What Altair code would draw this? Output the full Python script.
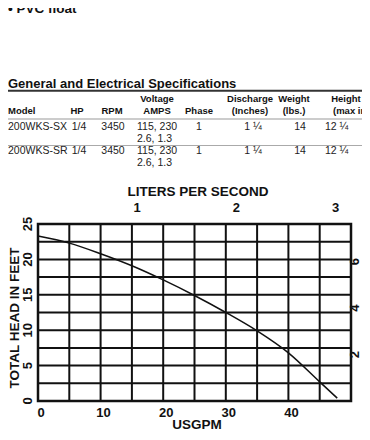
import altair as alt
import pandas as pd

# ---------------- data ----------------
gpm = [0, 5, 10, 15, 20, 25, 30, 35, 40, 45, 47.8]
head_ft = [23.3, 22.3, 20.8, 19.1, 17.1, 14.9, 12.5, 9.9, 6.8, 2.7, 0.4]

x_ticks_gpm = [0, 10, 20, 30, 40]
y_ticks_ft = [0, 5, 10, 15, 20, 25]
top_ticks_lps = [1, 2, 3]
right_ticks_m = [2, 4, 6]
grid_gpm = [0, 5, 10, 15, 20, 25, 30, 35, 40, 45, 50]
grid_ft = [0, 2.5, 5, 7.5, 10, 12.5, 15, 17.5, 20, 22.5, 25]

hdr_top = ["Voltage", "Discharge", "Weight", "Height"]
hdr_bot = ["Model", "HP", "RPM", "AMPS", "Phase", "(Inches)", "(lbs.)", "(max in.)"]
models = ["200WKS-SX", "200WKS-SR"]
hp = ["1/4", "1/4"]
rpm = ["3450", "3450"]
volts = ["115, 230", "115, 230"]
amps = ["2.6, 1.3", "2.6, 1.3"]
phase = ["1", "1"]
discharge = ["1 \u00bc", "1 \u00bc"]
weight = ["14", "14"]
height_in = ["12 \u00bc", "12 \u00bc"]

# ---------------- layout ----------------
W, H = 354, 424
PX = [30, 343]
PY = [393, 216]
GPM_MAX, FT_MAX = 50, 25
LPS_PER_GPM = 1 / 15.850323
M_PER_FT = 0.3048

SANS = "Liberation Sans, Arial, Helvetica, sans-serif"

xs = alt.Scale(domain=[0, GPM_MAX], range=PX)
ys = alt.Scale(domain=[0, FT_MAX], range=PY)
xs_lps = alt.Scale(domain=[0, GPM_MAX * LPS_PER_GPM], range=PX)
ys_m = alt.Scale(domain=[0, FT_MAX * M_PER_FT], range=PY)

one = alt.Data(values=[{"a": 1}])

# gridlines
vg = pd.DataFrame({"g": grid_gpm, "y0": 0, "y1": FT_MAX})
hg = pd.DataFrame({"f": grid_ft, "x0": 0, "x1": GPM_MAX})
vgrid = alt.Chart(vg).mark_rule(color="#111", strokeWidth=2).encode(
    x=alt.X("g:Q", scale=xs, axis=None),
    y=alt.Y("y0:Q", scale=ys, axis=None), y2="y1:Q")
hgrid = alt.Chart(hg).mark_rule(color="#111", strokeWidth=2).encode(
    y=alt.Y("f:Q", scale=ys, axis=None),
    x=alt.X("x0:Q", scale=xs, axis=None), x2="x1:Q")
border = alt.Chart(pd.DataFrame({"x0": [0], "x1": [GPM_MAX], "y0": [0], "y1": [FT_MAX]})).mark_rect(
    fill=None, stroke="#111", strokeWidth=2.5).encode(
    x=alt.X("x0:Q", scale=xs, axis=None), x2="x1:Q",
    y=alt.Y("y0:Q", scale=ys, axis=None), y2="y1:Q")

curve = alt.Chart(pd.DataFrame({"gpm": gpm, "ft": head_ft})).mark_line(
    color="#111", strokeWidth=1.5, interpolate="monotone").encode(
    x=alt.X("gpm:Q", scale=xs, axis=None),
    y=alt.Y("ft:Q", scale=ys, axis=None))

lab_style = dict(font=SANS, fontSize=13, fontWeight="bold", color="#111")
xlab = alt.Chart(pd.DataFrame({"v": x_ticks_gpm})).mark_text(
    baseline="middle", align="center", dx=3, **lab_style).encode(
    x=alt.X("v:Q", scale=xs, axis=None), y=alt.value(405), text="v:Q")
ylab = alt.Chart(pd.DataFrame({"v": y_ticks_ft})).mark_text(
    baseline="middle", align="center", angle=270, **lab_style).encode(
    y=alt.Y("v:Q", scale=ys, axis=None), x=alt.value(20), text="v:Q")
toplab = alt.Chart(pd.DataFrame({"v": top_ticks_lps})).mark_text(
    baseline="middle", align="center", **lab_style).encode(
    x=alt.X("v:Q", scale=xs_lps, axis=None), y=alt.value(200), text="v:Q")
rightlab = alt.Chart(pd.DataFrame({"v": right_ticks_m})).mark_text(
    baseline="middle", align="center", angle=270, **lab_style).encode(
    y=alt.Y("v:Q", scale=ys_m, axis=None), x=alt.value(347), text="v:Q")

title_style = dict(font=SANS, fontSize=13.5, fontWeight="bold", color="#111")
t_lps = alt.Chart(one).mark_text(text="LITERS PER SECOND", baseline="middle", align="center",
                                 **title_style).encode(x=alt.value(190), y=alt.value(184))
t_gpm = alt.Chart(one).mark_text(text="USGPM", baseline="bottom", align="center",
                                 **title_style).encode(x=alt.value(189), y=alt.value(424))
t_ft = alt.Chart(one).mark_text(text="TOTAL HEAD IN FEET", baseline="middle", align="center",
                                angle=270, **title_style).encode(x=alt.value(7), y=alt.value(310))
t_pvc = alt.Chart(one).mark_text(text="\u2022 PVC float", baseline="alphabetic", align="left",
                                 **title_style).encode(x=alt.value(0), y=alt.value(5))

# ---------------- table ----------------
t_head = alt.Chart(one).mark_text(text="General and Electrical Specifications", baseline="alphabetic",
                                  align="left", font=SANS, fontSize=13, fontWeight="bold",
                                  color="#111").encode(x=alt.value(0), y=alt.value(80))
rule_df = pd.DataFrame({"y": [82.7, 111, 137.5], "w": [2, 1, 1], "c": ["#333", "#999", "#aaa"]})
t_rules = alt.Chart(rule_df).mark_rule().encode(
    y=alt.Y("y:Q", scale=None), x=alt.value(0), x2=alt.value(W),
    strokeWidth=alt.StrokeWidth("w:Q", scale=None, legend=None),
    color=alt.Color("c:N", scale=None, legend=None))

hdr_top_x = [149, 242, 286, 338]
hdr_bot_x = [0, 69, 104, 149, 191, 242, 286, 325]
hdr_bot_align = ["left", "center", "center", "center", "center", "center", "center", "left"]
hrows = [{"t": t, "x": x, "y": 90.5} for t, x in zip(hdr_top, hdr_top_x)]
hc = [{"t": t, "x": x, "y": 102.5} for t, x, a in zip(hdr_bot, hdr_bot_x, hdr_bot_align) if a == "center"]
hl = [{"t": t, "x": x, "y": 102.5} for t, x, a in zip(hdr_bot, hdr_bot_x, hdr_bot_align) if a == "left"]
hdr_style = dict(font=SANS, fontSize=9.5, fontWeight="bold", color="#111", baseline="middle")
th1 = alt.Chart(pd.DataFrame(hrows + hc)).mark_text(align="center", **hdr_style).encode(
    x=alt.X("x:Q", scale=None), y=alt.Y("y:Q", scale=None), text="t:N")
th2 = alt.Chart(pd.DataFrame(hl)).mark_text(align="left", **hdr_style).encode(
    x=alt.X("x:Q", scale=None), y=alt.Y("y:Q", scale=None), text="t:N")

row_y1 = [119, 143]
row_y2 = [131, 155]
vl, vc = [], []
for i in range(len(models)):
    vl += [{"t": models[i], "x": 0, "y": row_y1[i]},
           {"t": volts[i], "x": 129, "y": row_y1[i]},
           {"t": amps[i], "x": 129, "y": row_y2[i]},
           {"t": height_in[i], "x": 317, "y": row_y1[i]}]
    vc += [{"t": hp[i], "x": 71, "y": row_y1[i]},
           {"t": rpm[i], "x": 105, "y": row_y1[i]},
           {"t": phase[i], "x": 191, "y": row_y1[i]},
           {"t": discharge[i], "x": 245, "y": row_y1[i]},
           {"t": weight[i], "x": 292, "y": row_y1[i]}]
val_style = dict(font=SANS, fontSize=10.5, color="#222", baseline="middle")
tv1 = alt.Chart(pd.DataFrame(vl)).mark_text(align="left", **val_style).encode(
    x=alt.X("x:Q", scale=None), y=alt.Y("y:Q", scale=None), text="t:N")
tv2 = alt.Chart(pd.DataFrame(vc)).mark_text(align="center", **val_style).encode(
    x=alt.X("x:Q", scale=None), y=alt.Y("y:Q", scale=None), text="t:N")

chart = alt.layer(
    vgrid, hgrid, border, curve, xlab, ylab, toplab, rightlab,
    t_lps, t_gpm, t_ft, t_pvc, t_head, t_rules, th1, th2, tv1, tv2
).resolve_scale(x="independent", y="independent", color="independent", strokeWidth="independent").properties(
    width=W, height=H, autosize=alt.AutoSizeParams(type="none"), padding=0,
    background="white"
).configure_view(stroke=None)

chart.save("out.html", embed_options={"renderer": "svg", "actions": False})
